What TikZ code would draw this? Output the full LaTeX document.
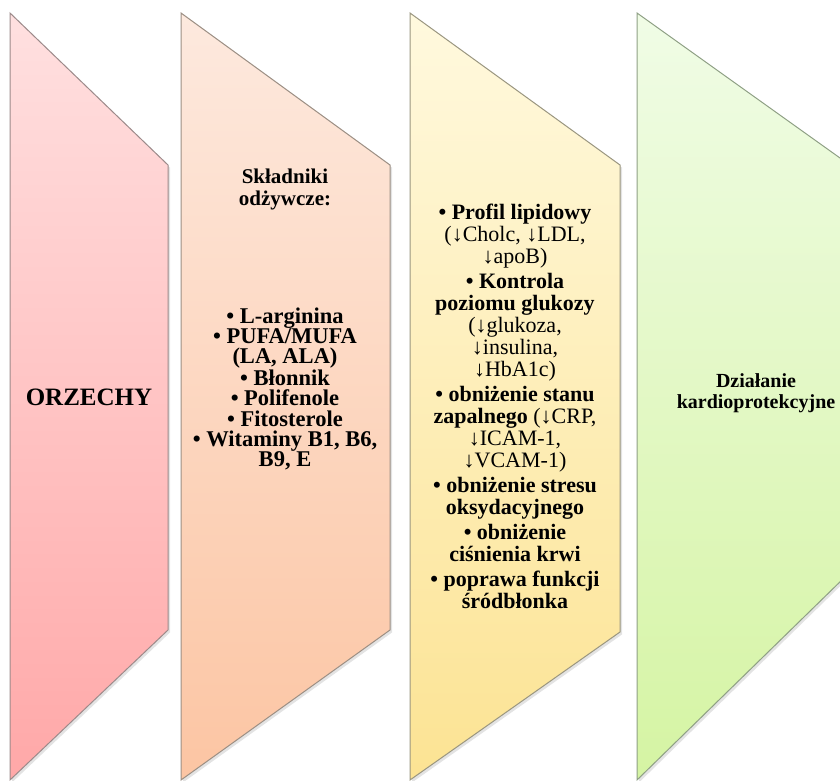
\documentclass[tikz,border=0pt]{standalone}
\usepackage{fontspec}
\setmainfont{Liberation Serif}
\usetikzlibrary{shadows}
\definecolor{pAt}{HTML}{FFE0E0}
\definecolor{pAb}{HTML}{FFA8A8}
\definecolor{pBt}{HTML}{FDE9DE}
\definecolor{pBb}{HTML}{FCC5A3}
\definecolor{pCt}{HTML}{FFF9DE}
\definecolor{pCb}{HTML}{FCE393}
\definecolor{pDt}{HTML}{F0FCE6}
\definecolor{pDb}{HTML}{D5F4A3}
\definecolor{edgeA}{HTML}{9C8A8A}
\definecolor{edgeB}{HTML}{9C8F84}
\definecolor{edgeC}{HTML}{9A9680}
\definecolor{edgeD}{HTML}{8FA085}
\tikzset{
  panel/.style={line width=1pt, line join=miter,
    drop shadow={shadow xshift=2pt, shadow yshift=-2.5pt, opacity=0.22}},
  lbl/.style={align=center, inner sep=0pt, text=black},
}
\begin{document}
\begin{tikzpicture}[x=1pt, y=-1pt]
  \useasboundingbox (0,0) rectangle (840,781);
  \clip (0,0) rectangle (840,781);
  % panels
  \path[panel, draw=edgeA, top color=pAt, bottom color=pAb]
    (10,13) -- (168,165) -- (168,630) -- (10,780) -- cycle;
  \path[panel, draw=edgeB, top color=pBt, bottom color=pBb]
    (181,13) -- (390,165) -- (390,630) -- (181,780) -- cycle;
  \path[panel, draw=edgeC, top color=pCt, bottom color=pCb]
    (410,13) -- (620,165) -- (620,632) -- (410,780) -- cycle;
  \path[panel, draw=edgeD, top color=pDt, bottom color=pDb]
    (637,13) -- (847,163) -- (847,575) -- (637,780) -- cycle;
  % texts
  \node[lbl, font=\bfseries\fontsize{25}{26}\selectfont] (orz) at (89,397) {ORZECHY};
  \node[lbl, font=\bfseries\fontsize{21}{22}\selectfont] (skl) at (285,189) {Składniki\\odżywcze:};
  \node[lbl, font=\bfseries\fontsize{22.5}{20.4}\selectfont] (sklist) at (285,389)
    {•~L-arginina\\•~PUFA/MUFA\\(LA, ALA)\\•~Błonnik\\•~Polifenole\\•~Fitosterole\\•~Witaminy B1, B6,\\B9, E};
  \node[lbl, font=\bfseries\fontsize{22}{22}\selectfont] (eff) at (515,406)
    {•~Profil lipidowy\\
     {\mdseries(↓Cholc, ↓LDL,}\\
     {\mdseries↓apoB)}\\[3pt]
     •~Kontrola\\
     poziomu glukozy\\
     {\mdseries(↓glukoza,}\\
     {\mdseries↓insulina,}\\
     {\mdseries↓HbA1c)}\\[3pt]
     •~obniżenie stanu\\
     zapalnego {\mdseries(↓CRP,}\\
     {\mdseries↓ICAM-1,}\\
     {\mdseries↓VCAM-1)}\\[3pt]
     •~obniżenie stresu\\
     oksydacyjnego\\[3pt]
     •~obniżenie\\
     ciśnienia krwi\\[3pt]
     •~poprawa funkcji\\
     śródbłonka};
  \node[lbl, font=\bfseries\fontsize{20}{21}\selectfont] (dzial) at (756,393)
    {Działanie\\kardioprotekcyjne};
\end{tikzpicture}
\end{document}
